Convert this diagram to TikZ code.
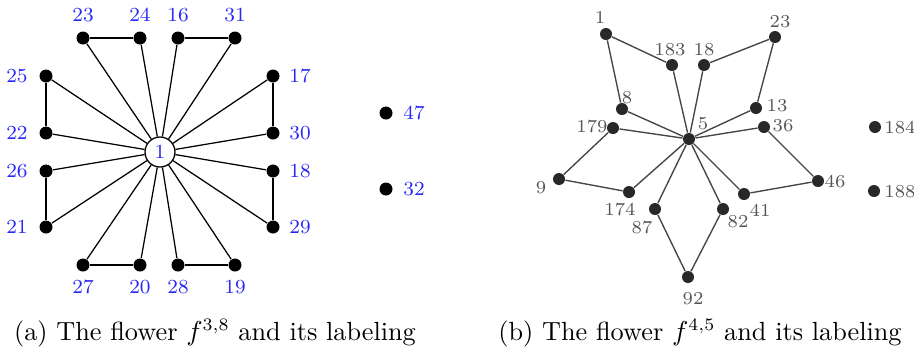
\documentclass[tikz,border=0pt]{standalone}
\usepackage{amsmath}
\definecolor{lblue}{RGB}{40,40,245}
\definecolor{dgray}{RGB}{40,40,40}
\definecolor{lgray}{RGB}{70,70,70}
\definecolor{tgray}{RGB}{85,85,85}
\begin{document}
\begin{tikzpicture}[x=0.4pt,y=-0.4pt,
  bdot/.style={circle,fill=black,inner sep=0pt,minimum size=5.2pt},
  gdot/.style={circle,fill=dgray,inner sep=0pt,minimum size=4.8pt},
  ctr/.style={circle,draw=black,fill=white,line width=0.5pt,inner sep=0pt,minimum size=12pt,text=lblue,font=\fontsize{8}{9}\selectfont},
  blab/.style={text=lblue,font=\fontsize{8}{9}\selectfont,inner sep=0pt},
  glab/.style={text=tgray,font=\fontsize{7.3}{8}\selectfont,inner sep=0pt},
  aedge/.style={draw=black,line width=0.5pt},
  bedge/.style={draw=lgray,line width=0.55pt},
  capt/.style={font=\fontsize{10.5}{12}\selectfont,inner sep=0pt,anchor=base}]
\useasboundingbox (0,0) rectangle (914,349);
% ---- (a) ----
\node[ctr] (c1) at (160,152) {1};
\foreach \n/\x/\y in {23/83/38,24/140/38,16/178/38,31/235/38,
  25/46/76,17/273/76,22/46/133,30/273/133,26/46/171,18/273/171,
  21/46/227,29/273/227,27/83/265,20/140/265,28/178/265,19/235/265,
  47/386/113,32/386/189}
  \node[bdot] (a\n) at (\x,\y) {};
\foreach \n in {23,24,16,31,25,17,22,30,26,18,21,29,27,20,28,19}
  \draw[aedge] (c1) -- (a\n);
\foreach \p/\q in {23/24,16/31,25/22,17/30,26/21,18/29,27/20,28/19}
  \draw[aedge] (a\p) -- (a\q);
\foreach \n/\x/\y in {23/83/15,24/140/15,16/178/15,31/235/15,
  25/17/76,17/300/76,22/17/133,30/300/133,26/17/171,18/300/171,
  21/17/227,29/300/227,27/83/287,20/140/287,28/178/287,19/235/287,
  47/414/113,32/414/189}
  \node[blab] (la\n) at (\x,\y) {\n};
% ---- (b) ----
\foreach \n/\x/\y in {1/606/34,183/672/65,18/704/65,23/775/37,8/622/109,
  13/756/108,179/613/128,36/764/127,5/689/139,9/559/179,174/629/192,
  87/655/209,82/723/209,41/744/194,46/818/181,92/688/277,188/874/191,184/875/127}
  \node[gdot] (b\n) at (\x,\y) {};
\foreach \p/\q in {1/183,1/8,8/5,183/5,18/5,18/23,23/13,13/5,179/5,36/5,
  179/9,9/174,174/5,87/5,82/5,41/5,36/46,46/41,87/92,82/92}
  \draw[bedge] (b\p) -- (b\q);
\foreach \n/\x/\y in {1/600/17,183/670/50,18/704/50,23/780/22,8/627/98,
  179/592/127,13/777/106,36/783/126,5/703/124,9/541/188,174/620/210,
  87/642/228,82/738/222,41/760/210,46/835/182,188/900/192,92/693/299,184/900/128}
  \node[glab] (lb\n) at (\x,\y) {\n};
% ---- captions ----
\node[capt] (capa) at (215,340) {(a) The flower $f^{3,8}$ and its labeling};
\node[capt] (capb) at (700,340) {(b) The flower $f^{4,5}$ and its labeling};
\end{tikzpicture}
\end{document}
